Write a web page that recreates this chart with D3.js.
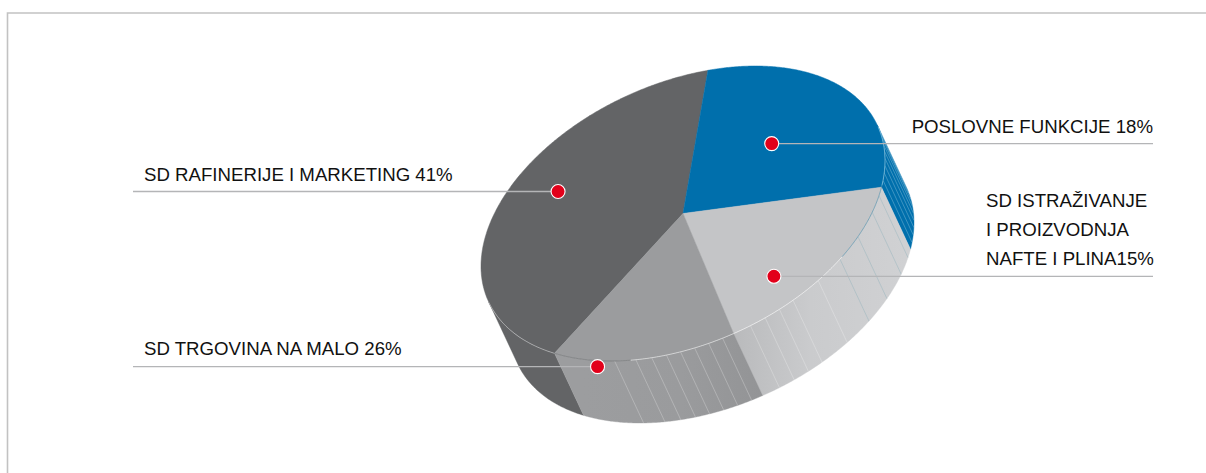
<!DOCTYPE html>
<html>
<head>
<meta charset="utf-8">
<script src="https://cdn.jsdelivr.net/npm/d3@7"></script>
<style>
html,body{margin:0;padding:0;background:#fff;}
svg{display:block;}
text{font-family:"Liberation Sans",Arial,sans-serif;font-size:18.65px;fill:#111;}
</style>
</head>
<body>
<svg id="chart" width="1206" height="473"></svg>
<script>
// Data (slice order: clockwise from the lower-left edge)
const categories = ["SD RAFINERIJE I MARKETING", "POSLOVNE FUNKCIJE", "SD ISTRAŽIVANJE|I PROIZVODNJA|NAFTE I PLINA", "SD TRGOVINA NA MALO"];
const labelPercents = [41, 18, 15, 26];      // as printed in the labels
const sliceShares = [41, 26, 18, 15];        // as actually drawn by slice size
const topColors = ["#636466", "#006fac", "#c4c5c7", "#9b9c9e"];

// Layout and styling
const W = 1206, H = 473;
const startDeg = 219.5;
const cx = 683, cy = 213.5, ax = 202, shear = -52.8, ay = 137.7;
const extrude = [29, 62];
const rimVisibleDeg = [74.1, 254.1];
const markerOffsetDeg = [9.4, -1.6, 11.3, 11.5];
const markerRadius = [0.735, 0.555, 0.773, 1.04];
const leaders = [
  {x2: 133, labelX: 144, anchor: "start", baselines: [180.5]},
  {x2: 1153, labelX: 1153, anchor: "end", baselines: [133]},
  {x2: 1153, labelX: 986, anchor: "start", baselines: [207, 236, 265]},
  {x2: 133, labelX: 144, anchor: "start", baselines: [355]}
];
// ruling lines on the rim, in pie degrees
const rimRulings = [
  {deg: [77, 80, 83, 86, 89, 92, 95, 98], color: "rgba(190,225,240,.45)"},
  {deg: [104, 110.5, 120, 129], color: "rgba(120,165,180,.45)"},
  {deg: [138, 147, 151.5, 156, 160.5], color: "rgba(255,255,255,.35)"},
  {deg: [168.7, 172.7, 176.7, 180.7, 184.7, 188.9, 193.5, 199.8], color: "rgba(255,255,255,.35)"}
];

const rad = d => d * Math.PI / 180;
const scaleU = d3.scaleLinear().domain([-1, 1]).range([-ax, ax]);
const project = (a, r = 1, dz = 0) => {
  const u = Math.sin(a) * r, v = -Math.cos(a) * r;
  return [cx + scaleU(u) + dz * extrude[0], cy + shear * u + ay * v + dz * extrude[1]];
};
const samples = (a0, a1) => {
  const n = Math.max(2, Math.ceil(Math.abs(a1 - a0) / rad(0.5)));
  return d3.range(n + 1).map(i => a0 + (a1 - a0) * i / n);
};
const line = d3.line();

const pie = d3.pie().sort(null)
  .startAngle(rad(startDeg)).endAngle(rad(startDeg + 360));
const arcs = pie(sliceShares);

const svg = d3.select("#chart");
const defs = svg.append("defs");

function gradient(id, x1, x2, stops) {
  const g = defs.append("linearGradient").attr("id", id)
    .attr("gradientUnits", "userSpaceOnUse")
    .attr("x1", x1).attr("x2", x2).attr("y1", 0).attr("y2", 0);
  stops.forEach(s => g.append("stop").attr("offset", s[0]).attr("stop-color", s[1]));
}
gradient("sideLight", 733, 905, [[0, "#b9babc"], [0.45, "#cacbcd"], [1, "#d0d1d3"]]);
gradient("sideRetail", 583, 762, [[0, "#9c9d9f"], [0.55, "#9a9b9d"], [1, "#939496"]]);
const sideFills = ["#636466", "#006fac", "url(#sideLight)", "url(#sideRetail)"];

// frame
svg.append("path").attr("d", `M7.5,${H}V13H${W}`)
  .attr("fill", "none").attr("stroke", "#c2c2c2").attr("stroke-width", 1.6);

// rim: only the part of each slice facing the viewer
const rimSpan = d => {
  const lo = rad(rimVisibleDeg[0]), hi = rad(rimVisibleDeg[1]), turn = 2 * Math.PI;
  const spans = [];
  [0, turn].forEach(k => {
    const a0 = Math.max(d.startAngle, lo + k), a1 = Math.min(d.endAngle, hi + k);
    if (a1 > a0) spans.push([a0, a1]);
  });
  return spans;
};
svg.append("g").selectAll("path").data(arcs).join("path")
  .attr("d", d => rimSpan(d).map(([a0, a1]) => {
    const s = samples(a0, a1);
    const pts = s.map(a => project(a)).concat(s.slice().reverse().map(a => project(a, 1, 1)));
    return line(pts) + "Z";
  }).join(""))
  .attr("fill", (d, i) => sideFills[i])
  .attr("stroke", (d, i) => sideFills[i]).attr("stroke-width", 0.4);

// rim rulings
const ruleG = svg.append("g");
rimRulings.forEach(set => {
  ruleG.selectAll(null).data(set.deg).join("line")
    .each(function (d) {
      const a = rad(d), p = project(a), q = project(a, 1, 1);
      d3.select(this).attr("x1", p[0]).attr("y1", p[1]).attr("x2", q[0]).attr("y2", q[1]);
    })
    .attr("stroke", set.color).attr("stroke-width", 0.7);
});

// top faces
svg.append("g").selectAll("path").data(arcs).join("path")
  .attr("d", d => line([[cx, cy]].concat(samples(d.startAngle, d.endAngle).map(a => project(a)))) + "Z")
  .attr("fill", (d, i) => topColors[i])
  .attr("stroke", (d, i) => topColors[i]).attr("stroke-width", 0.5);

// hairline along the front edge of the top face
const edges = [
  {from: 219.5, to: 254, color: "rgba(215,216,218,.7)"},
  {from: 195, to: 219.5, color: "rgba(110,111,113,.7)"},
  {from: 166, to: 195, color: "rgba(255,255,255,.65)"},
  {from: 128, to: 166, color: "rgba(255,255,255,.7)"},
  {from: 100, to: 128, color: "rgba(70,140,170,.75)"},
  {from: 75, to: 100, color: "rgba(180,225,240,.7)"}
];
svg.append("g").selectAll("path").data(edges).join("path")
  .attr("d", e => line(samples(rad(e.from), rad(e.to)).map(a => project(a))))
  .attr("fill", "none").attr("stroke", e => e.color).attr("stroke-width", 0.8);

// leaders and markers
const markers = arcs.map((d, i) => project((d.startAngle + d.endAngle) / 2 + rad(markerOffsetDeg[i]), markerRadius[i]));
svg.append("g").selectAll("line").data(markers).join("line")
  .attr("x1", d => d[0]).attr("y1", d => d[1])
  .attr("x2", (d, i) => leaders[i].x2).attr("y2", d => d[1])
  .attr("stroke", "#b4b5b7").attr("stroke-width", 1.3);
svg.append("g").selectAll("circle").data(markers).join("circle")
  .attr("cx", d => d[0]).attr("cy", d => d[1]).attr("r", 7)
  .attr("fill", "#e2001a").attr("stroke", "#fff").attr("stroke-width", 1.1);

// labels
categories.forEach((c, i) => {
  const parts = c.split("|");
  const sep = parts.length > 1 ? "" : " ";
  parts[parts.length - 1] += sep + labelPercents[i] + "%";
  parts.forEach((t, k) => {
    svg.append("text").attr("x", leaders[i].labelX).attr("y", leaders[i].baselines[k])
      .attr("text-anchor", leaders[i].anchor).text(t);
  });
});
</script>
</body>
</html>
